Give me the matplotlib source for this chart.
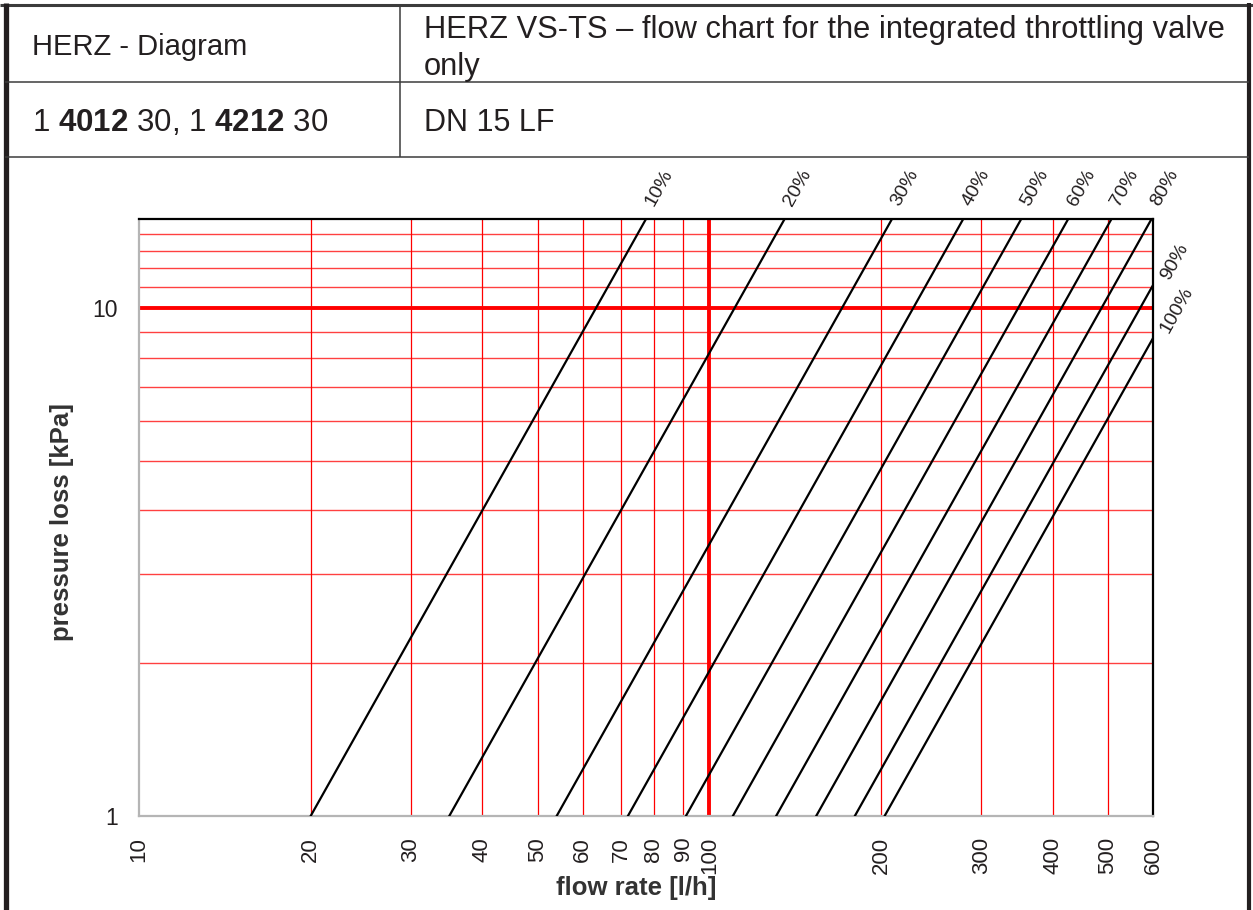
import numpy as np
import matplotlib
matplotlib.use("Agg")
import matplotlib.pyplot as plt
from matplotlib.ticker import FixedLocator, FixedFormatter, NullLocator

plt.rcParams['font.family'] = ['Liberation Sans', 'DejaVu Sans']
plt.rcParams['mathtext.fontset'] = 'custom'
plt.rcParams['mathtext.rm'] = 'Liberation Sans'
plt.rcParams['mathtext.bf'] = 'Liberation Sans:bold'

# Presetting positions of the throttling valve and their kv values [m3/h]
settings = ["10%", "20%", "30%", "40%", "50%", "60%", "70%", "80%", "90%", "100%"]
kv_values = [0.20, 0.35, 0.54, 0.72, 0.91, 1.10, 1.31, 1.54, 1.80, 2.03]

# Axis ranges, tick labels and grid positions
flow_range = [10, 600]          # l/h
dp_range = [1, 15]              # kPa
flow_ticks = [10, 20, 30, 40, 50, 60, 70, 80, 90, 100, 200, 300, 400, 500, 600]
dp_ticks = [1, 10]
flow_grid = [20, 30, 40, 50, 60, 70, 80, 90, 100, 200, 300, 400, 500]
dp_grid = [2, 3, 4, 5, 6, 7, 8, 9, 10, 11, 12, 13, 14]
flow_major = 100
dp_major = 10

# Header table texts
title_left = "HERZ - Diagram"
title_right = "HERZ VS-TS \u2013 flow chart for the integrated throttling valve"
title_right_2 = "only"
article_nos = r"1 $\mathbf{4012}$ 30, 1 $\mathbf{4212}$ 30"
size_text = "DN 15 LF"

W, H = 1253, 910
fig = plt.figure(figsize=(W / 100, H / 100), dpi=100)
fig.patch.set_facecolor("white")

# Page frame / header table drawn in pixel coordinates
bg = fig.add_axes([0, 0, 1, 1], zorder=0)
bg.set_xlim(0, W)
bg.set_ylim(H, 0)
bg.axis("off")
frame_col = "#231f20"
bg.plot([0, W], [4.5, 4.5], color="#3c3c3c", lw=2.2, solid_capstyle="butt")
bg.plot([5.5, 5.5], [3, H], color=frame_col, lw=3.8, solid_capstyle="butt")
bg.plot([1249, 1249], [3, H], color=frame_col, lw=3.0, solid_capstyle="butt")
for yy in (82, 157):
    bg.plot([5, 1249], [yy, yy], color="#3c3c3c", lw=1.1, solid_capstyle="butt")
bg.plot([400, 400], [5, 157], color="#3c3c3c", lw=1.1, solid_capstyle="butt")

txt_col = "#231f20"
bg.text(32, 55, title_left, fontsize=21, color=txt_col, va="baseline", ha="left")
bg.text(424, 38, title_right, fontsize=22.2, color=txt_col, va="baseline", ha="left")
bg.text(424, 75, title_right_2, fontsize=22.2, color=txt_col, va="baseline", ha="left")
bg.text(32, 131, article_nos, fontsize=22.5, color=txt_col, va="baseline", ha="left")
bg.text(424, 131, size_text, fontsize=22, color=txt_col, va="baseline", ha="left")

# Diagram axes
left, right, bottom, top = 139, 1153, 816, 219
ax = fig.add_axes([left / W, (H - bottom) / H, (right - left) / W, (bottom - top) / H], zorder=1)
ax.set_xscale("log")
ax.set_yscale("log")
ax.set_xlim(*flow_range)
ax.set_ylim(*dp_range)

for g in flow_grid:
    ax.axvline(g, color="#ff0000", lw=2.8 if g == flow_major else 0.9, zorder=1)
for g in dp_grid:
    ax.axhline(g, color="#ff0000", lw=2.8 if g == dp_major else 1.0,
               alpha=1.0 if g == dp_major else 0.75, zorder=1)

for side in ("left", "bottom"):
    ax.spines[side].set_color("#b5b5b5")
    ax.spines[side].set_linewidth(1.6)
for side in ("top", "right"):
    ax.spines[side].set_color("black")
    ax.spines[side].set_linewidth(1.6)

ax.xaxis.set_major_locator(FixedLocator(flow_ticks))
ax.xaxis.set_major_formatter(FixedFormatter([str(v) for v in flow_ticks]))
ax.xaxis.set_minor_locator(NullLocator())
ax.yaxis.set_major_locator(FixedLocator(dp_ticks))
ax.yaxis.set_major_formatter(FixedFormatter([str(v) for v in dp_ticks]))
ax.yaxis.set_minor_locator(NullLocator())
ax.tick_params(axis="x", length=0, pad=15, labelsize=16, rotation=90, labelcolor=txt_col)
ax.tick_params(axis="y", length=0, pad=15, labelsize=16.5, labelcolor=txt_col)

ax.set_xlabel("flow rate [l/h]", fontsize=18.5, fontweight="bold", color="#333333", va="center")
ax.xaxis.set_label_coords(0.49, -0.12)
ax.set_ylabel("pressure loss [kPa]", fontsize=18.5, fontweight="bold", color="#333333", va="center")
ax.yaxis.set_label_coords(-0.076, 0.4925)


def pressure_loss(q, kv):
    """Pressure loss in kPa for flow q [l/h] through kv [m3/h]."""
    return 100.0 * (np.asarray(q, dtype=float) / 1000.0 / kv) ** 2


q_line = np.array(flow_range, dtype=float)
for label, kv in zip(settings, kv_values):
    ax.plot(q_line, pressure_loss(q_line, kv), color="black", lw=1.6, zorder=3,
            solid_capstyle="butt")

    # end of the line inside the diagram (top edge or right edge)
    q_top = 100.0 * kv * np.sqrt(dp_range[1])
    q_end = min(q_top, flow_range[1])
    dp_end = float(pressure_loss(q_end, kv))
    p0 = ax.transData.transform((q_line[0], pressure_loss(q_line[0], kv)))
    p1 = ax.transData.transform((q_end, dp_end))
    angle = np.degrees(np.arctan2(p1[1] - p0[1], p1[0] - p0[0]))
    if dp_end >= dp_range[1] * 0.97:
        offset = (2.6, 10.0)
    else:
        offset = (8.6, 4.3)
    ax.annotate(label, xy=(q_end, dp_end), xytext=offset, textcoords="offset points",
                rotation=angle, rotation_mode="anchor", ha="left", va="center",
                fontsize=14, color=txt_col, annotation_clip=False)

fig.savefig("out.png", dpi=100, facecolor="white")
